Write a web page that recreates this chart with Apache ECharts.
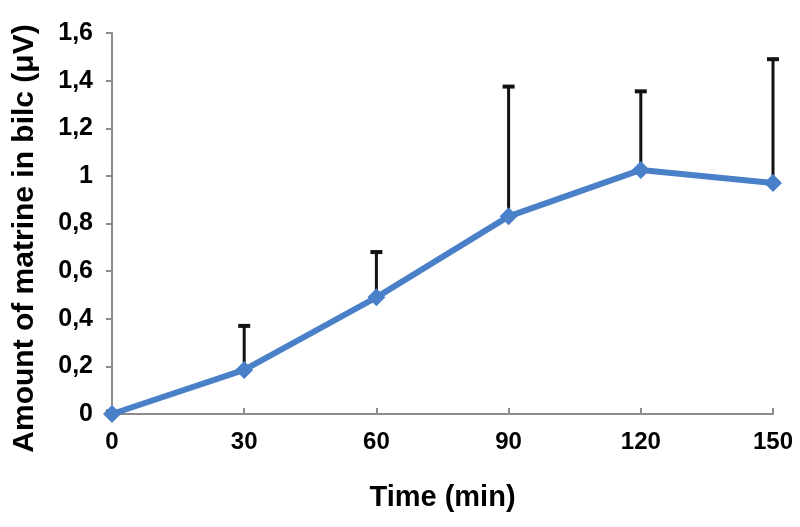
<!DOCTYPE html>
<html>
<head>
<meta charset="utf-8">
<script src="https://cdn.jsdelivr.net/npm/echarts@6/dist/echarts.min.js"></script>
<style>
  html, body { margin: 0; padding: 0; background: #fff; }
  #chart { width: 800px; height: 527px; }
</style>
</head>
<body>
<div id="chart"></div>
<script>
// data
const times = [0, 30, 60, 90, 120, 150]
const amounts = [0, 0.185, 0.49, 0.83, 1.025, 0.97]
const errUpper = [0.01, 0.37, 0.68, 1.375, 1.355, 1.49]

const font = 'Liberation Sans, Arial, sans-serif'
const chart = echarts.init(document.getElementById('chart'))

const option = {
  animation: false,
  grid: { left: 112, right: 27, top: 33, bottom: 113, outerBoundsMode: 'none' },
  xAxis: {
    type: 'value',
    min: 0,
    max: 150,
    interval: 30,
    name: 'Time (min)',
    nameLocation: 'middle',
    nameGap: 69,
    nameTextStyle: { fontFamily: font, fontWeight: 'bold', fontSize: 29, color: '#000' },
    axisLine: { lineStyle: { color: '#8c8c8c', width: 2 } },
    axisTick: { show: true, inside: true, length: 6, lineStyle: { color: '#8c8c8c', width: 2 } },
    axisLabel: { fontFamily: font, fontWeight: 'bold', fontSize: 24, color: '#000', margin: 16 },
    splitLine: { show: false }
  },
  yAxis: {
    type: 'value',
    min: 0,
    max: 1.6,
    interval: 0.2,
    name: 'Amount of matrine in bilc (\u03bcV)',
    nameLocation: 'middle',
    nameGap: 72,
    nameTextStyle: { fontFamily: font, fontWeight: 'bold', fontSize: 30, color: '#000', padding: [0, 30, 0, 0] },
    axisLine: { show: true, lineStyle: { color: '#8c8c8c', width: 2 } },
    axisTick: { show: true, length: 6, lineStyle: { color: '#8c8c8c', width: 2 } },
    axisLabel: {
      fontFamily: font, fontWeight: 'bold', fontSize: 25, color: '#000', margin: 19,
      formatter: v => String(Math.round(v * 10) / 10).replace('.', ',')
    },
    splitLine: { show: false }
  },
  series: [
    {
      type: 'custom',
      z: 1,
      data: times.map((t, i) => [t, amounts[i], errUpper[i]]),
      renderItem: (params, api) => {
        const base = api.coord([api.value(0), api.value(1)])
        const top = api.coord([api.value(0), api.value(2)])
        const hw = 6
        return {
          type: 'group',
          children: [
            { type: 'line', shape: { x1: base[0], y1: base[1], x2: top[0], y2: top[1] }, style: { stroke: '#111', lineWidth: 3 } },
            { type: 'line', shape: { x1: top[0] - hw, y1: top[1], x2: top[0] + hw, y2: top[1] }, style: { stroke: '#111', lineWidth: 4 } }
          ]
        }
      }
    },
    {
      type: 'line',
      z: 3,
      data: times.map((t, i) => [t, amounts[i]]),
      symbol: 'diamond',
      symbolSize: 18,
      lineStyle: { color: '#4a80c8', width: 6 },
      itemStyle: { color: '#4a80c8' }
    }
  ]
}

chart.setOption(option)
</script>
</body>
</html>
